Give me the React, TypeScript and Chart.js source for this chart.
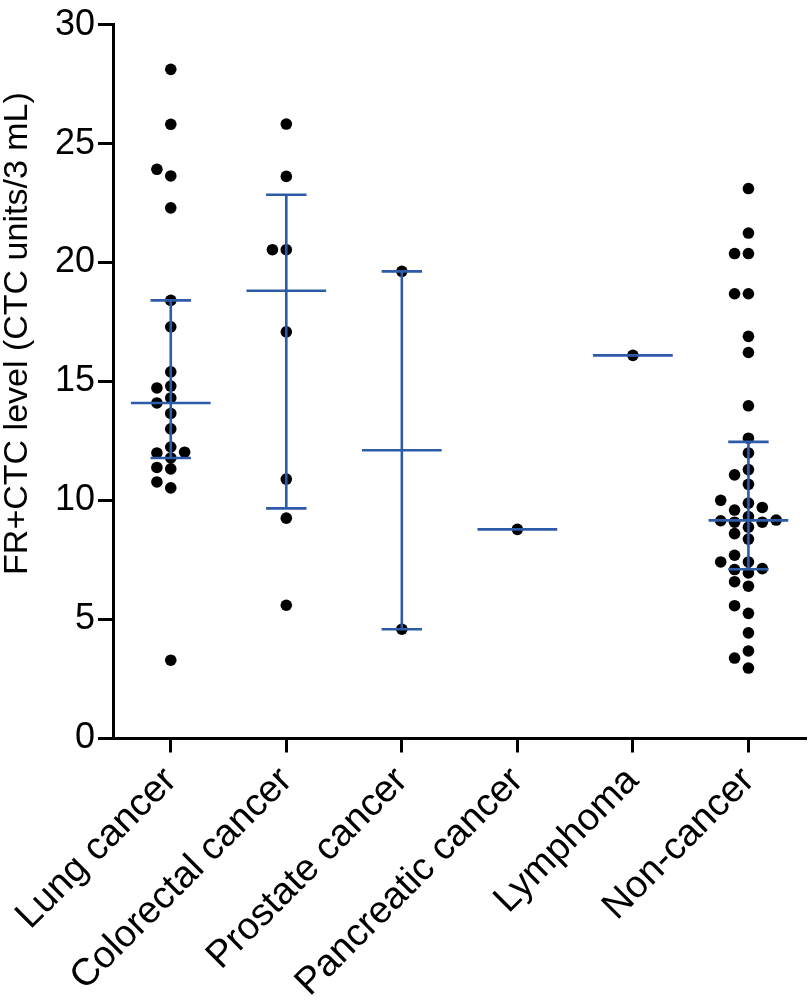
import React, { useEffect, useRef } from "react";
import { Chart, registerables } from "chart.js";

Chart.register(...registerables);

// ---------- data ----------
const categories = [
  "Lung cancer",
  "Colorectal cancer",
  "Prostate cancer",
  "Pancreatic cancer",
  "Lymphoma",
  "Non-cancer",
];

const lungCancer = [
  28.12, 25.81, 23.92, 23.64, 22.3, 18.41, 17.3, 15.41, 14.81, 14.73, 14.31,
  14.1, 13.66, 13.01, 12.25, 12.03, 12.0, 11.79, 11.33, 11.39, 10.78, 10.53,
  3.29,
];
const colorectalCancer = [25.82, 23.62, 20.54, 20.54, 17.09, 10.9, 9.26, 5.6];
const prostateCancer = [19.63, 4.59];
const pancreaticCancer = [8.79];
const lymphoma = [16.1];
const nonCancer = [
  23.11, 21.24, 20.38, 20.38, 18.69, 18.69, 16.9, 16.22, 13.98, 12.62, 12.0,
  11.3, 11.08, 10.68, 10.01, 9.89, 9.71, 9.6, 9.33, 9.18, 9.15, 9.09, 9.09,
  8.88, 8.61, 8.38, 7.7, 7.42, 7.42, 7.14, 7.1, 6.96, 6.59, 6.4, 5.58, 5.26,
  4.44, 3.68, 3.38, 2.96,
];

const groups = [
  lungCancer,
  colorectalCancer,
  prostateCancer,
  pancreaticCancer,
  lymphoma,
  nonCancer,
];

const yTicks = [0, 5, 10, 15, 20, 25, 30];
const yTitle = "FR+CTC level (CTC units/3 mL)";

// ---------- styles ----------
const FONT = "'Liberation Sans', Arial, Helvetica, sans-serif";
const LINE_COLOR = "#2d5ba8";
const DOT_COLOR = "#000000";
const SWARM_STEP = 0.12; // horizontal spacing of swarm columns (category units)
const SWARM_GAP = 0.44; // min vertical gap (value units) within a column
const MEDIAN_HALF = 0.345;
const CAP_HALF = 0.175;
const TITLE_X = 18;
const TITLE_SHIFT_UP = 48;

// ---------- helpers ----------
function quantile(sortedAsc: number[], p: number) {
  const n = sortedAsc.length;
  const pos = p * (n + 1);
  if (pos <= 1) return sortedAsc[0];
  if (pos >= n) return sortedAsc[n - 1];
  const lo = Math.floor(pos);
  const frac = pos - lo;
  return sortedAsc[lo - 1] + frac * (sortedAsc[lo] - sortedAsc[lo - 1]);
}

function summary(vals: number[]) {
  const s = [...vals].sort((a, b) => a - b);
  return {
    n: s.length,
    median: quantile(s, 0.5),
    q1: quantile(s, 0.25),
    q3: quantile(s, 0.75),
  };
}

function swarm(vals: number[], center: number) {
  const sorted = [...vals].sort((a, b) => a - b);
  const placed: { v: number; slot: number }[] = [];
  const order = [0, -1, 1, -2, 2, -3, 3, -4, 4];
  for (const v of sorted) {
    let chosen = 0;
    for (const slot of order) {
      const clash = placed.some(
        (p) => p.slot === slot && Math.abs(p.v - v) < SWARM_GAP
      );
      if (!clash) {
        chosen = slot;
        break;
      }
    }
    placed.push({ v, slot: chosen });
  }
  return placed.map((p) => ({ x: center + p.slot * SWARM_STEP, y: p.v }));
}

const summaryPlugin = {
  id: "medianIqr",
  afterDatasetsDraw(chart: any) {
    const { ctx } = chart;
    const xs = chart.scales.x;
    const ys = chart.scales.y;
    ctx.save();
    ctx.strokeStyle = LINE_COLOR;
    ctx.lineWidth = 2.6;
    ctx.lineCap = "butt";
    groups.forEach((vals, i) => {
      const st = summary(vals);
      const cx = xs.getPixelForValue(i);
      const mL = xs.getPixelForValue(i - MEDIAN_HALF);
      const mR = xs.getPixelForValue(i + MEDIAN_HALF);
      const cL = xs.getPixelForValue(i - CAP_HALF);
      const cR = xs.getPixelForValue(i + CAP_HALF);
      const yM = ys.getPixelForValue(st.median);
      ctx.beginPath();
      ctx.moveTo(mL, yM);
      ctx.lineTo(mR, yM);
      ctx.stroke();
      if (st.n > 1) {
        const y1 = ys.getPixelForValue(st.q1);
        const y3 = ys.getPixelForValue(st.q3);
        ctx.beginPath();
        ctx.moveTo(cx, y3);
        ctx.lineTo(cx, y1);
        ctx.moveTo(cL, y3);
        ctx.lineTo(cR, y3);
        ctx.moveTo(cL, y1);
        ctx.lineTo(cR, y1);
        ctx.stroke();
      }
    });
    ctx.restore();
  },
};

const titlePlugin = {
  id: "yTitle",
  afterDraw(chart: any) {
    const { ctx } = chart;
    const ys = chart.scales.y;
    const cy = (ys.top + ys.bottom) / 2 - TITLE_SHIFT_UP;
    ctx.save();
    ctx.translate(TITLE_X, cy);
    ctx.rotate(-Math.PI / 2);
    ctx.fillStyle = "#000";
    ctx.font = `34px ${FONT}`;
    ctx.textAlign = "center";
    ctx.textBaseline = "middle";
    ctx.fillText(yTitle, 0, 0);
    ctx.restore();
  },
};

export default function App() {
  const canvasRef = useRef<HTMLCanvasElement | null>(null);

  useEffect(() => {
    if (!canvasRef.current) return;
    Chart.defaults.font.family = FONT;
    const datasets = groups.map((vals, i) => ({
      label: categories[i],
      data: swarm(vals, i),
      backgroundColor: DOT_COLOR,
      borderColor: DOT_COLOR,
      borderWidth: 0,
      pointRadius: 5.8,
      pointHoverRadius: 5.8,
      showLine: false,
    }));

    const chart = new Chart(canvasRef.current, {
      type: "scatter",
      data: { datasets },
      plugins: [summaryPlugin, titlePlugin],
      options: {
        animation: false,
        responsive: false,
        devicePixelRatio: 1,
        layout: { padding: { top: 17, right: 1, left: 0, bottom: 0 } },
        plugins: {
          legend: { display: false },
          tooltip: { enabled: false },
        },
        scales: {
          x: {
            type: "linear",
            position: "bottom",
            min: -0.5,
            max: 5.5,
            afterBuildTicks: (scale: any) => {
              scale.ticks = categories.map((_, i) => ({ value: i }));
            },
            afterFit: (scale: any) => {
              scale.height = 269.5;
            },
            ticks: {
              autoSkip: false,
              minRotation: 45,
              maxRotation: 45,
              padding: 6,
              color: "#000",
              font: { size: 38, family: FONT },
              callback: (v: any) => categories[Math.round(Number(v))] ?? "",
            },
            grid: {
              drawOnChartArea: false,
              drawTicks: true,
              tickLength: 14,
              tickWidth: 3,
              tickColor: "#000",
            },
            border: { display: true, color: "#000", width: 3 },
          },
          y: {
            type: "linear",
            min: 0,
            max: 30,
            afterBuildTicks: (scale: any) => {
              scale.ticks = yTicks.map((v) => ({ value: v }));
            },
            afterFit: (scale: any) => {
              scale.width = 113;
            },
            ticks: {
              padding: 3,
              color: "#000",
              font: { size: 36, family: FONT },
            },
            grid: {
              drawOnChartArea: false,
              drawTicks: true,
              tickLength: 15,
              tickWidth: 3,
              tickColor: "#000",
            },
            border: { display: true, color: "#000", width: 3 },
            title: { display: false },
          },
        },
      },
    });
    return () => chart.destroy();
  }, []);

  return (
    <div
      style={{
        position: "absolute",
        left: 0,
        top: 0,
        width: 812,
        height: 1008,
        background: "#fff",
      }}
    >
      <canvas
        ref={canvasRef}
        width={812}
        height={1008}
        style={{ width: 812, height: 1008, display: "block" }}
      />
    </div>
  );
}
